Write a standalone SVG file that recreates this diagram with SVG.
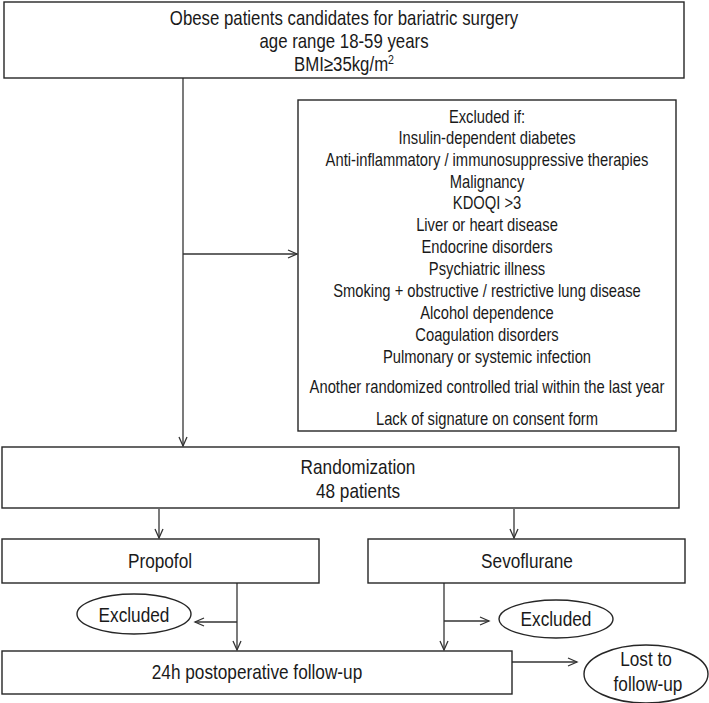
<svg xmlns="http://www.w3.org/2000/svg" width="709" height="703" viewBox="0 0 709 703">
<style>
rect, ellipse { fill: #fff; stroke: #262626; stroke-width: 1.4; }
.c path { fill: none; stroke: #333; stroke-width: 1.3; }
text { font-family: "Liberation Sans", Arial, sans-serif; fill: #1a1a1a; text-anchor: middle; }
.s { font-size: 18px; }
.m { font-size: 21px; }
.t { font-size: 20.5px; }
</style>
<defs>
<marker id="ah" markerUnits="userSpaceOnUse" markerWidth="12" markerHeight="12" refX="10" refY="5" orient="auto">
<path d="M1,1 L10,5 L1,9" fill="none" stroke="#333" stroke-width="1.3"/>
</marker>
</defs>
<g id="connectors" class="c">
<path d="M183,78 V446" marker-end="url(#ah)"/>
<path d="M183,254 H297" marker-end="url(#ah)"/>
<path d="M159,509 V538" marker-end="url(#ah)"/>
<path d="M514,509 V538" marker-end="url(#ah)"/>
<path d="M237,583 V650" marker-end="url(#ah)"/>
<path d="M237,622 H195" marker-end="url(#ah)"/>
<path d="M444,583 V650" marker-end="url(#ah)"/>
<path d="M444,621 H489" marker-end="url(#ah)"/>
<path d="M512,662 H577" marker-end="url(#ah)"/>
</g>
<g id="candidates">
<rect x="4" y="2" width="680" height="76"/>
<text class="t" transform="translate(344 25) scale(0.82 1)">Obese patients candidates for bariatric surgery</text>
<text class="t" transform="translate(344 48) scale(0.82 1)">age range 18-59 years</text>
<text class="t" transform="translate(344 71) scale(0.82 1)">BMI≥35kg/m<tspan font-size="13" dy="-7">2</tspan></text>
</g>
<g id="exclusion">
<rect x="298" y="100" width="378" height="331"/>
<text class="s" transform="translate(487 123) scale(0.82 1)">Excluded if:</text>
<text class="s" transform="translate(487 144) scale(0.82 1)">Insulin-dependent diabetes</text>
<text class="s" transform="translate(487 166) scale(0.82 1)">Anti-inflammatory / immunosuppressive therapies</text>
<text class="s" transform="translate(487 188) scale(0.82 1)">Malignancy</text>
<text class="s" transform="translate(487 209) scale(0.82 1)">KDOQI &gt;3</text>
<text class="s" transform="translate(487 231) scale(0.82 1)">Liver or heart disease</text>
<text class="s" transform="translate(487 253) scale(0.82 1)">Endocrine disorders</text>
<text class="s" transform="translate(487 275) scale(0.82 1)">Psychiatric illness</text>
<text class="s" transform="translate(487 297) scale(0.82 1)">Smoking + obstructive / restrictive lung disease</text>
<text class="s" transform="translate(487 319) scale(0.82 1)">Alcohol dependence</text>
<text class="s" transform="translate(487 341) scale(0.82 1)">Coagulation disorders</text>
<text class="s" transform="translate(487 363) scale(0.82 1)">Pulmonary or systemic infection</text>
<text class="s" transform="translate(487 393) scale(0.82 1)">Another randomized controlled trial within the last year</text>
<text class="s" transform="translate(487 425) scale(0.82 1)">Lack of signature on consent form</text>
</g>
<g id="randomization">
<rect x="2" y="447" width="677" height="61"/>
<text class="m" transform="translate(358 474) scale(0.82 1)">Randomization</text>
<text class="m" transform="translate(358 498) scale(0.82 1)">48 patients</text>
</g>
<g id="propofol">
<rect x="2" y="539" width="317" height="44"/>
<text class="m" transform="translate(160 568) scale(0.82 1)">Propofol</text>
</g>
<g id="sevoflurane">
<rect x="368" y="539" width="317" height="44"/>
<text class="m" transform="translate(527 568) scale(0.82 1)">Sevoflurane</text>
</g>
<g id="excluded-propofol">
<ellipse cx="134" cy="614" rx="57" ry="20"/>
<text class="m" transform="translate(134 622) scale(0.82 1)">Excluded</text>
</g>
<g id="excluded-sevoflurane">
<ellipse cx="556" cy="619" rx="57" ry="19"/>
<text class="m" transform="translate(556 626) scale(0.82 1)">Excluded</text>
</g>
<g id="followup">
<rect x="2" y="651" width="510" height="43"/>
<text class="m" transform="translate(257 679) scale(0.82 1)">24h postoperative follow-up</text>
</g>
<g id="lost">
<ellipse cx="646" cy="674" rx="62" ry="29"/>
<text class="m" transform="translate(646 666) scale(0.82 1)">Lost to</text>
<text class="m" transform="translate(648 691) scale(0.82 1)">follow-up</text>
</g>
</svg>
